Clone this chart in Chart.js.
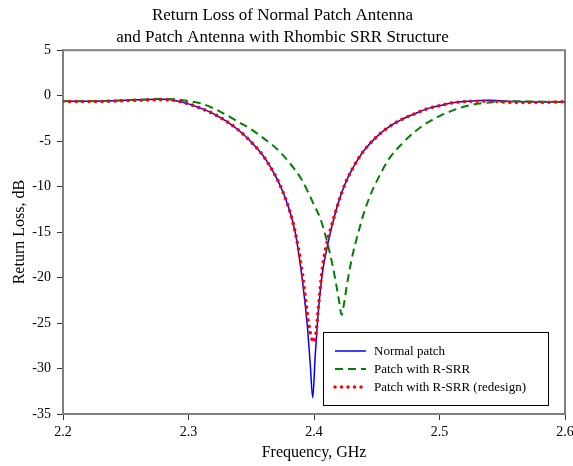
<!DOCTYPE html>
<html>
<head>
<meta charset="utf-8">
<script src="https://cdn.jsdelivr.net/npm/chart.js@4/dist/chart.umd.min.js"></script>
<style>
  body { margin: 0; background: #fff; }
</style>
</head>
<body>
<canvas id="rlChart" width="573" height="466"></canvas>
<script>
// Normal patch
var freqNormal = [2.20, 2.22, 2.24, 2.26, 2.28, 2.29, 2.30, 2.31, 2.32, 2.33, 2.34, 2.35, 2.36, 2.37, 2.375, 2.38, 2.385, 2.39, 2.393, 2.395, 2.397, 2.399, 2.401, 2.403, 2.405, 2.407, 2.41, 2.414, 2.418, 2.422, 2.426, 2.43, 2.435, 2.44, 2.45, 2.46, 2.47, 2.48, 2.49, 2.50, 2.51, 2.52, 2.54, 2.56, 2.58, 2.60];
var normalDb = [-0.6, -0.6, -0.55, -0.45, -0.4, -0.55, -0.9, -1.4, -2.0, -2.8, -3.8, -5.1, -6.7, -9.0, -10.5, -12.4, -15.0, -19.5, -23.0, -25.8, -29.5, -33.2, -28.5, -24.5, -21.5, -19.2, -17.0, -14.5, -12.4, -10.7, -9.3, -8.2, -7.0, -6.0, -4.5, -3.4, -2.6, -2.0, -1.45, -1.1, -0.8, -0.65, -0.5, -0.65, -0.7, -0.7];

// Patch with R-SRR
var freqRsrr = [2.20, 2.22, 2.24, 2.26, 2.28, 2.29, 2.30, 2.31, 2.32, 2.33, 2.34, 2.35, 2.36, 2.37, 2.38, 2.39, 2.40, 2.405, 2.41, 2.415, 2.418, 2.42, 2.422, 2.424, 2.426, 2.43, 2.435, 2.44, 2.445, 2.45, 2.46, 2.47, 2.48, 2.49, 2.50, 2.51, 2.52, 2.53, 2.54, 2.56, 2.58, 2.60];
var rsrrDb = [-0.6, -0.6, -0.55, -0.45, -0.35, -0.4, -0.6, -0.85, -1.4, -2.1, -2.9, -3.7, -4.7, -5.8, -7.3, -9.2, -12.0, -13.5, -15.8, -18.8, -21.0, -22.6, -24.1, -22.8, -21.0, -18.0, -15.2, -12.8, -10.9, -9.4, -6.9, -5.3, -4.0, -3.0, -2.25, -1.65, -1.2, -0.9, -0.75, -0.6, -0.65, -0.7];

// Patch with R-SRR (redesign)
var freqRedesign = [2.20, 2.22, 2.24, 2.26, 2.28, 2.29, 2.30, 2.31, 2.32, 2.33, 2.34, 2.35, 2.36, 2.37, 2.375, 2.38, 2.385, 2.39, 2.393, 2.396, 2.398, 2.400, 2.402, 2.404, 2.407, 2.41, 2.414, 2.418, 2.422, 2.426, 2.43, 2.435, 2.44, 2.45, 2.46, 2.47, 2.48, 2.49, 2.50, 2.51, 2.52, 2.54, 2.56, 2.58, 2.60];
var redesignDb = [-0.65, -0.65, -0.6, -0.5, -0.45, -0.55, -0.9, -1.4, -2.0, -2.8, -3.8, -5.1, -6.7, -9.0, -10.5, -12.4, -15.0, -18.8, -22.0, -25.3, -26.6, -27.1, -25.6, -22.5, -18.6, -16.4, -14.3, -12.4, -10.7, -9.3, -8.2, -7.0, -6.0, -4.5, -3.4, -2.6, -2.0, -1.45, -1.1, -0.8, -0.65, -0.6, -0.75, -0.75, -0.65];

var seriesLabels = ["Normal patch", "Patch with R-SRR", "Patch with R-SRR (redesign)"];
var titleLines = ["Return Loss of Normal Patch Antenna", "and Patch Antenna with Rhombic SRR Structure"];

var FONT = "'Liberation Serif', 'Times New Roman', serif";

function pts(xs, ys) {
  return xs.map(function (x, i) { return { x: x, y: ys[i] }; });
}

// frame round the plot area
var framePlugin = {
  id: "frame",
  beforeDatasetsDraw: function (chart) {
    var a = chart.chartArea, ctx = chart.ctx;
    ctx.save();
    ctx.strokeStyle = "#808080";
    ctx.lineWidth = 2;
    ctx.strokeRect(a.left, a.top, a.right - a.left, a.bottom - a.top);
    ctx.restore();
  }
};

// boxed legend inside the plot, bottom right
var boxLegend = {
  id: "boxLegend",
  afterDraw: function (chart) {
    var a = chart.chartArea, ctx = chart.ctx;
    var w = 225, h = 73;
    var bx = Math.round(a.right - 17 - w), by = Math.round(a.bottom - 9 - h);
    ctx.save();
    ctx.fillStyle = "#fff";
    ctx.fillRect(bx, by, w, h);
    ctx.strokeStyle = "#000";
    ctx.lineWidth = 1;
    ctx.strokeRect(bx + 0.5, by + 0.5, w, h);
    ctx.font = "13px " + FONT;
    ctx.textBaseline = "middle";
    chart.data.datasets.forEach(function (ds, i) {
      var y = by + 19 + i * 18;
      ctx.beginPath();
      ctx.strokeStyle = ds.borderColor;
      ctx.lineWidth = ds.borderWidth;
      ctx.lineCap = ds.borderCapStyle || "butt";
      ctx.setLineDash(ds.borderDash || []);
      ctx.moveTo(bx + 12, y);
      ctx.lineTo(bx + 43, y);
      ctx.stroke();
      ctx.setLineDash([]);
      ctx.fillStyle = "#000";
      ctx.fillText(ds.label, bx + 51, y + 1);
    });
    ctx.restore();
  }
};

var ctx = document.getElementById("rlChart");

var rlChart = new Chart(ctx, {
  type: "line",
  data: {
    datasets: [{
      label: seriesLabels[0],
      data: pts(freqNormal, normalDb),
      borderColor: "#0000ff",
      borderWidth: 1.5,
      pointRadius: 0,
      cubicInterpolationMode: "monotone",
      order: 2
    }, {
      label: seriesLabels[1],
      data: pts(freqRsrr, rsrrDb),
      borderColor: "#008000",
      borderWidth: 2,
      borderDash: [8, 5],
      pointRadius: 0,
      cubicInterpolationMode: "monotone",
      order: 1
    }, {
      label: seriesLabels[2],
      data: pts(freqRedesign, redesignDb),
      borderColor: "#ff0000",
      borderWidth: 3.5,
      borderDash: [0.01, 6.5],
      borderCapStyle: "round",
      pointRadius: 0,
      cubicInterpolationMode: "monotone",
      order: 0
    }]
  },
  options: {
    responsive: false,
    animation: false,
    layout: { padding: { left: 0, right: 8, top: 0, bottom: 0 } },
    plugins: {
      legend: { display: false },
      tooltip: { enabled: false },
      title: {
        display: true,
        text: titleLines,
        color: "#000",
        font: { family: FONT, size: 17, weight: "normal", lineHeight: 1.3 },
        padding: { top: 4, bottom: 2 }
      }
    },
    scales: {
      x: {
        type: "linear",
        min: 2.2,
        max: 2.6,
        afterFit: function (scale) {
          scale.height = 52;
          scale.paddingLeft = 0;
          scale.paddingRight = 0;
        },
        ticks: {
          stepSize: 0.1,
          color: "#000",
          font: { family: FONT, size: 14 },
          padding: 4,
          maxRotation: 0,
          callback: function (v) { return v.toFixed(1); }
        },
        grid: { drawOnChartArea: false, tickLength: 6, tickColor: "#333", tickWidth: 1 },
        border: { color: "#808080", width: 2 },
        title: {
          display: true,
          text: "Frequency, GHz",
          color: "#000",
          font: { family: FONT, size: 16 },
          padding: { top: 2, bottom: 4 }
        }
      },
      y: {
        min: -35,
        max: 5,
        afterFit: function (scale) { scale.width = 63; },
        ticks: {
          stepSize: 5,
          color: "#000",
          font: { family: FONT, size: 14 },
          padding: 6
        },
        grid: { drawOnChartArea: false, tickLength: 6, tickColor: "#333", tickWidth: 1 },
        border: { color: "#808080", width: 2 },
        title: {
          display: true,
          text: "Return Loss, dB",
          color: "#000",
          font: { family: FONT, size: 16 },
          padding: { top: 10, bottom: 4 }
        }
      }
    }
  },
  plugins: [framePlugin, boxLegend]
});
</script>
</body>
</html>
